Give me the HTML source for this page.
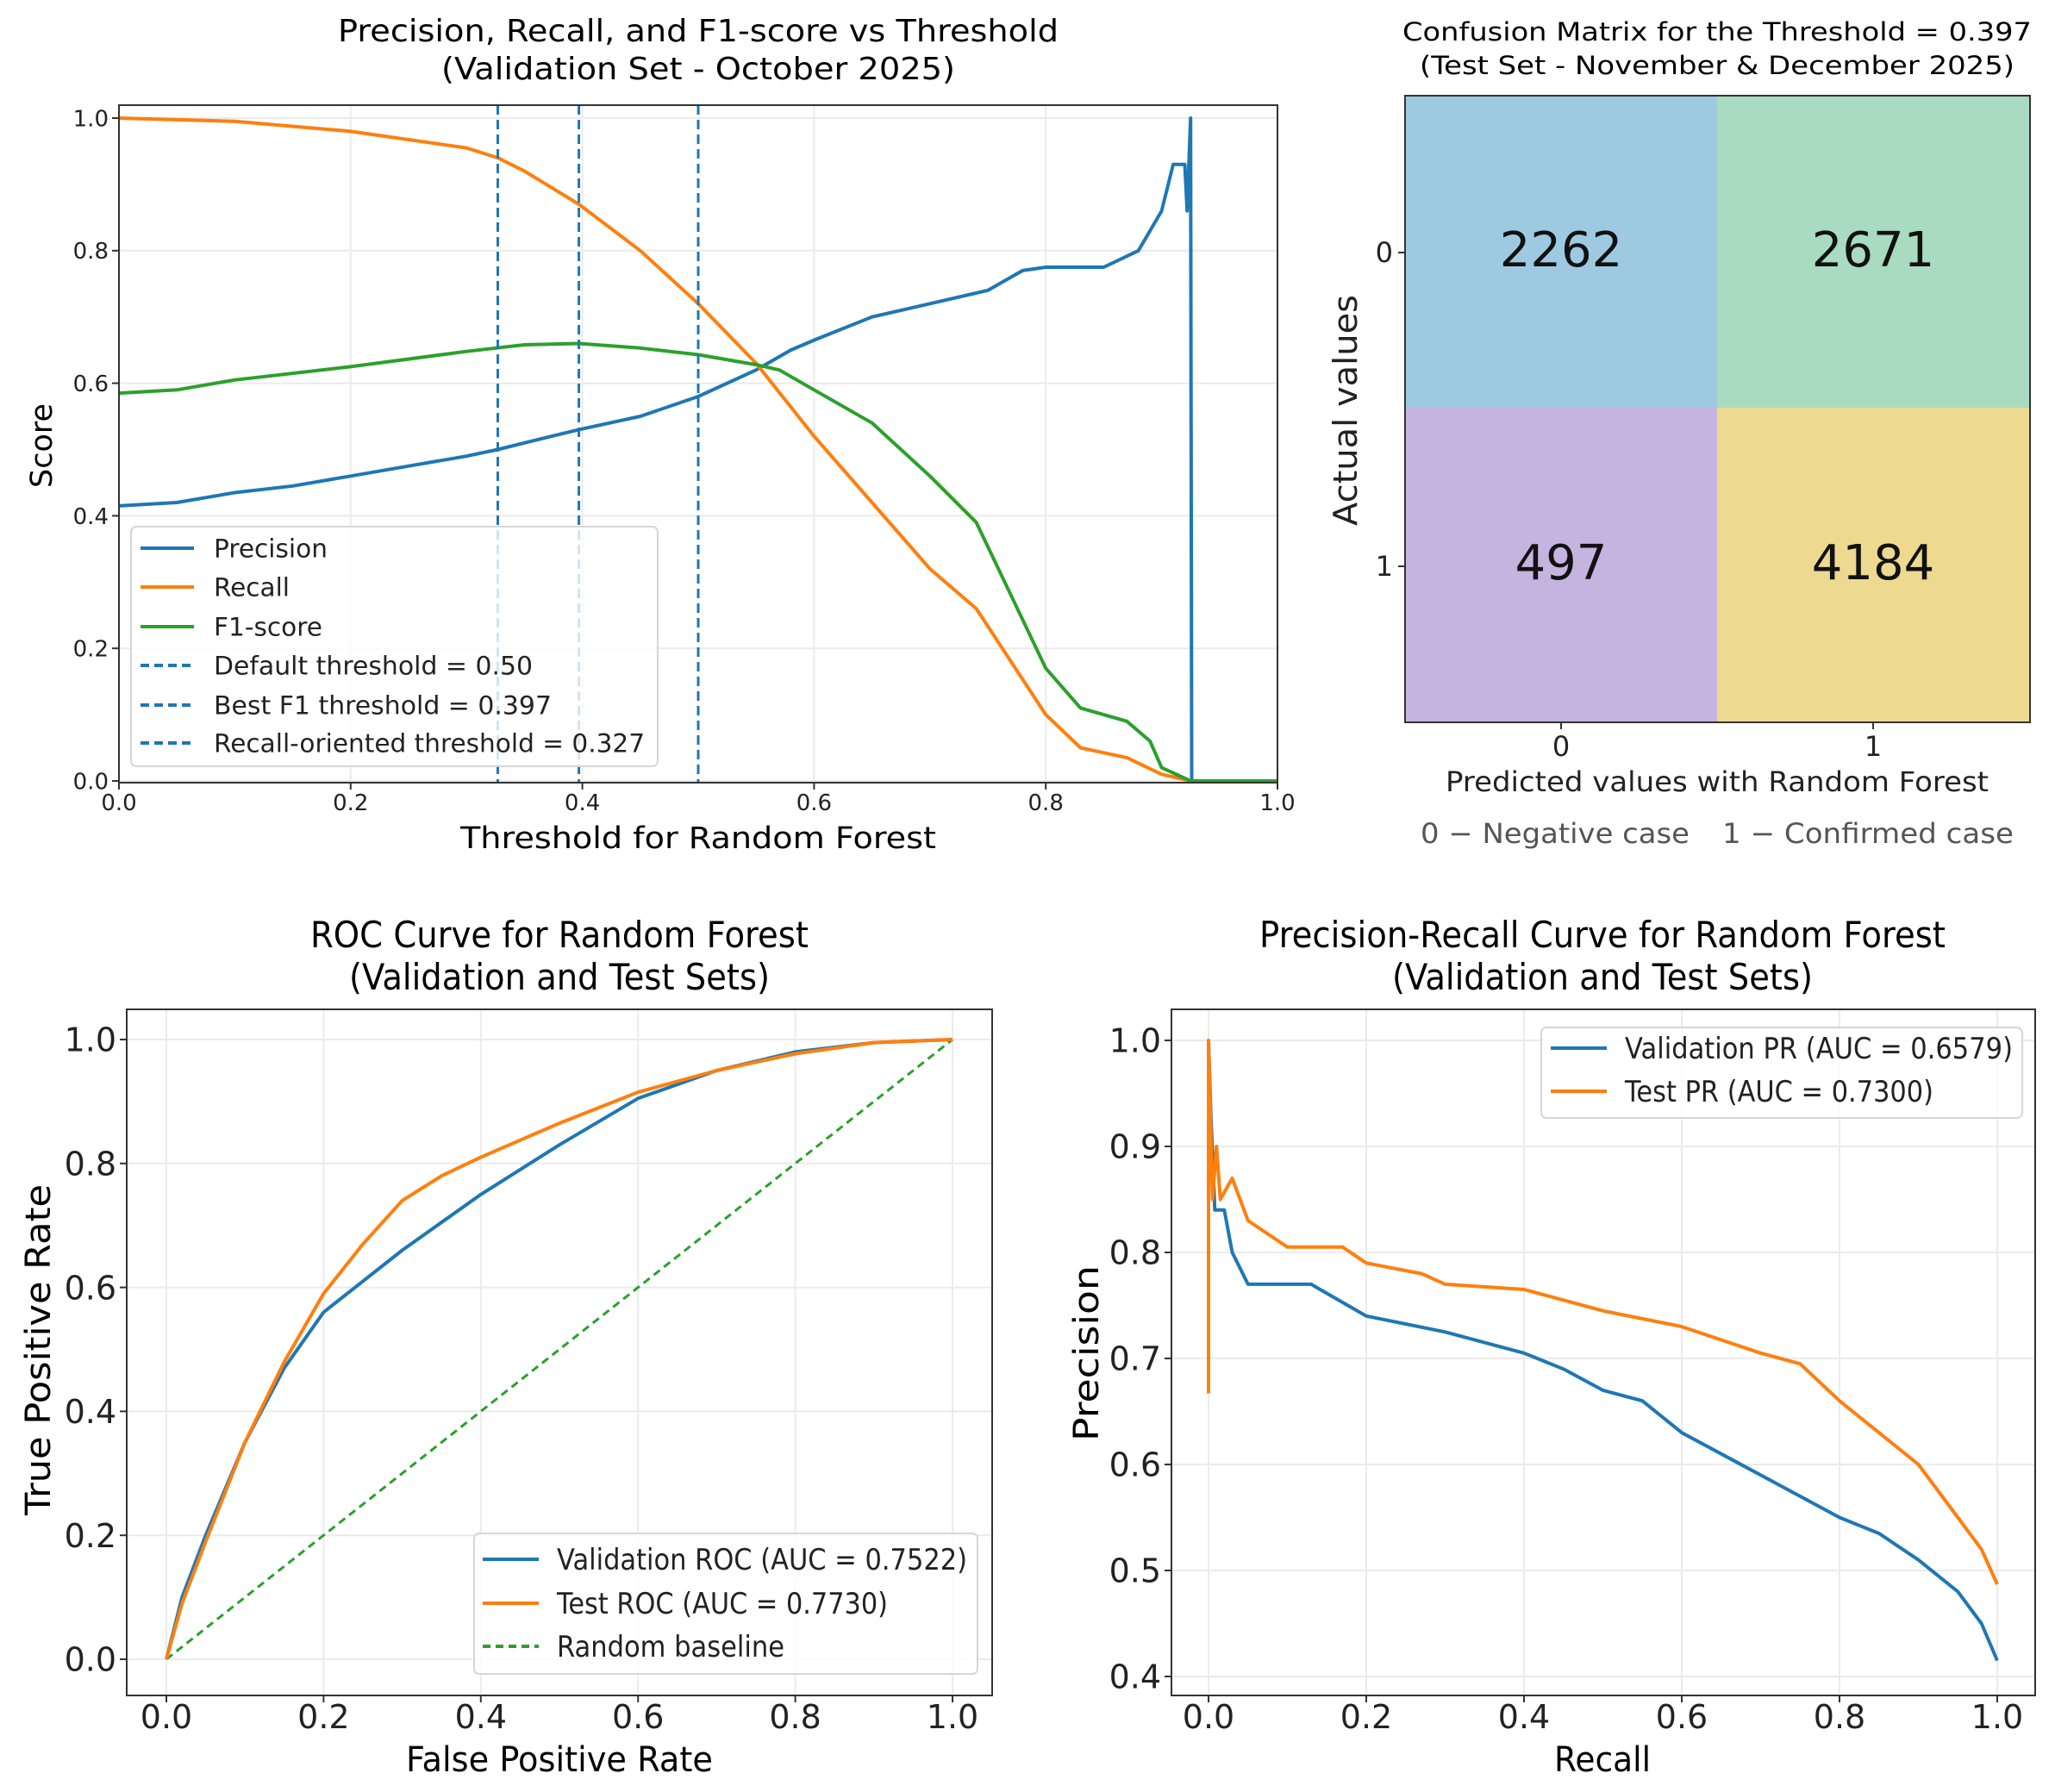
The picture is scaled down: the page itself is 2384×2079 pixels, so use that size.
<!DOCTYPE html>
<html><head><meta charset="utf-8"><style>
html,body{margin:0;padding:0;background:#fff;}
svg{display:block;font-family:"DejaVu Sans","Liberation Sans",sans-serif;}
</style></head><body>
<svg id="fig" width="2384" height="2079" viewBox="0 0 2384 2079" xmlns="http://www.w3.org/2000/svg">
<rect width="2384" height="2079" fill="#fff"/>
<g>
<text x="1992" y="47" font-size="29" text-anchor="middle" textLength="730" lengthAdjust="spacingAndGlyphs">Confusion Matrix for the Threshold = 0.397</text>
<text x="1992" y="86" font-size="29" text-anchor="middle" textLength="690" lengthAdjust="spacingAndGlyphs">(Test Set - November &amp; December 2025)</text>
<rect x="1630" y="111" width="362" height="362" fill="#9ecae1"/>
<rect x="1992" y="111" width="363" height="362" fill="#a8dbbf"/>
<rect x="1630" y="473" width="362" height="365" fill="#c5b3e0"/>
<rect x="1992" y="473" width="363" height="365" fill="#edd990"/>
<rect x="1630" y="111" width="725" height="727" fill="none" stroke="#333" stroke-width="2"/>
<g font-size="56" text-anchor="middle" fill="#111">
<text x="1811" y="309">2262</text>
<text x="2173" y="309">2671</text>
<text x="1811" y="672">497</text>
<text x="2173" y="672">4184</text>
</g>
<g font-size="32" fill="#222">
<line x1="1622" y1="293" x2="1630" y2="293" stroke="#333" stroke-width="2"/>
<line x1="1622" y1="657" x2="1630" y2="657" stroke="#333" stroke-width="2"/>
<line x1="1811" y1="838" x2="1811" y2="846" stroke="#333" stroke-width="2"/>
<line x1="2173" y1="838" x2="2173" y2="846" stroke="#333" stroke-width="2"/>
<text x="1616" y="304" text-anchor="end">0</text>
<text x="1616" y="668" text-anchor="end">1</text>
<text x="1811" y="877" text-anchor="middle">0</text>
<text x="2173" y="877" text-anchor="middle">1</text>
<text x="1992" y="918" text-anchor="middle" textLength="630" lengthAdjust="spacingAndGlyphs">Predicted values with Random Forest</text>
<text x="1648" y="978" fill="#555" textLength="312" lengthAdjust="spacingAndGlyphs">0 − Negative case</text>
<text x="1998" y="978" fill="#555" textLength="338" lengthAdjust="spacingAndGlyphs">1 − Confirmed case</text>
<text transform="translate(1574,476) rotate(-90)" text-anchor="middle" font-size="38" textLength="268" lengthAdjust="spacingAndGlyphs">Actual values</text>
</g>
</g>
</svg>
<script>
const thrX = [0,0.05,0.1,0.15,0.2,0.25,0.3,0.327,0.35,0.397,0.45,0.5,0.55,0.58,0.6,0.65,0.7,0.75,0.78,0.8,0.85,0.88,0.9,0.91,0.92,0.922,0.925,0.926,1.0];
const precisionVals = [0.415,0.42,0.435,0.445,0.46,0.475,0.49,0.50,0.51,0.53,0.55,0.58,0.62,0.65,0.665,0.70,0.72,0.74,0.77,0.775,0.775,0.80,0.86,0.93,0.93,0.86,1.0,0.0,0.0];
const recallX = [0,0.1,0.2,0.3,0.327,0.35,0.397,0.45,0.5,0.55,0.6,0.65,0.7,0.74,0.77,0.8,0.83,0.87,0.9,0.925,1.0];
const recallVals = [1.0,0.995,0.98,0.955,0.94,0.92,0.87,0.80,0.72,0.63,0.52,0.42,0.32,0.26,0.18,0.10,0.05,0.035,0.01,0,0];
const f1X = [0,0.05,0.1,0.2,0.3,0.35,0.397,0.45,0.5,0.55,0.57,0.6,0.65,0.7,0.74,0.77,0.8,0.83,0.87,0.89,0.9,0.925,1.0];
const f1Vals = [0.585,0.59,0.605,0.625,0.648,0.658,0.66,0.653,0.643,0.628,0.62,0.59,0.54,0.46,0.39,0.28,0.17,0.11,0.09,0.06,0.02,0.0,0];
const thresholds = [0.50,0.397,0.327];
const thrTicks = [0,0.2,0.4,0.6,0.8,1.0];
const scoreTicks = [0,0.2,0.4,0.6,0.8,1.0];

const rocValFpr = [0,0.02,0.05,0.1,0.15,0.2,0.25,0.3,0.4,0.5,0.6,0.7,0.8,0.9,1];
const rocValTpr = [0,0.1,0.2,0.35,0.47,0.56,0.61,0.66,0.75,0.83,0.905,0.95,0.98,0.995,1];
const rocTestFpr = [0,0.02,0.05,0.1,0.15,0.2,0.25,0.3,0.35,0.4,0.5,0.6,0.7,0.8,0.9,1];
const rocTestTpr = [0,0.09,0.19,0.35,0.48,0.59,0.67,0.74,0.78,0.81,0.865,0.915,0.95,0.977,0.995,1];
const rocTicks = [0,0.2,0.4,0.6,0.8,1.0];

const prValRecall = [0,0.003,0.008,0.02,0.03,0.05,0.1,0.13,0.2,0.3,0.4,0.45,0.5,0.55,0.6,0.7,0.8,0.85,0.9,0.95,0.98,1.0];
const prValPrec = [1.0,0.93,0.84,0.84,0.80,0.77,0.77,0.77,0.74,0.725,0.705,0.69,0.67,0.66,0.63,0.59,0.55,0.535,0.51,0.48,0.45,0.415];
const prTestRecall = [0,0,0.005,0.01,0.015,0.03,0.05,0.1,0.17,0.2,0.27,0.3,0.4,0.5,0.6,0.7,0.75,0.8,0.85,0.9,0.95,0.98,1.0];
const prTestPrec = [0.667,1.0,0.85,0.9,0.85,0.87,0.83,0.805,0.805,0.79,0.78,0.77,0.765,0.745,0.73,0.705,0.695,0.66,0.63,0.60,0.55,0.52,0.487];
const prXTicks = [0,0.2,0.4,0.6,0.8,1.0];
const prYTicks = [0.4,0.5,0.6,0.7,0.8,0.9,1.0];

const BLUE='#1f77b4', ORANGE='#ff7f0e', GREEN='#2ca02c';
const NS='http://www.w3.org/2000/svg';
const svg=document.getElementById('fig');
function mk(tag,attrs,parent){const e=document.createElementNS(NS,tag);for(const k in attrs)e.setAttribute(k,attrs[k]);(parent||svg).appendChild(e);return e;}
function lin(d0,d1,r0,r1){return v=>r0+(v-d0)/(d1-d0)*(r1-r0);}
function pathD(xs,ys,sx,sy){return xs.map((x,i)=>(i?'L':'M')+sx(x).toFixed(1)+','+sy(ys[i]).toFixed(1)).join('');}

function axes(cfg){
  const g=mk('g',{});
  
  
  const {x0,x1,y0,y1,sx,sy}=cfg;
  cfg.xt.forEach(v=>{const l=mk('line',{x1:sx(v),x2:sx(v),y1:y0,y2:y1,stroke:'#ebebeb','stroke-width':2},g);
    
    });
  cfg.yt.forEach(v=>{const l=mk('line',{x1:x0,x2:x1,y1:sy(v),y2:sy(v),stroke:'#ebebeb','stroke-width':2},g);
    
    });
  cfg.xt.forEach(v=>{mk('line',{x1:sx(v),x2:sx(v),y1:y1,y2:y1+8,stroke:'#333','stroke-width':2},g);
    const t=mk('text',{x:sx(v),y:cfg.xtY,'font-size':cfg.fs,'text-anchor':'middle',fill:'#222'},g);t.textContent=v.toFixed(1);
    
    });
  cfg.yt.forEach(v=>{mk('line',{x1:x0-8,x2:x0,y1:sy(v),y2:sy(v),stroke:'#333','stroke-width':2},g);
    const t=mk('text',{x:x0-12,y:sy(v)+cfg.fs*0.36,'font-size':cfg.fs,'text-anchor':'end',fill:'#222'},g);t.textContent=v.toFixed(1);
    
    });
  return g;
}
function frame(g,x0,x1,y0,y1){const r=mk('rect',{x:x0,y:y0,width:x1-x0,height:y1-y0,fill:'none',stroke:'#333','stroke-width':2},g);
  
  }
function text(g,attrs,str,name){const t=mk('text',attrs,g);t.textContent=str;
  
  return t;}
function series(g,xs,ys,sx,sy,color,name,w,dash){const p=mk('path',{d:pathD(xs,ys,sx,sy),fill:'none',stroke:color,'stroke-width':w||4,'stroke-linejoin':'round'},g);
  if(dash)p.setAttribute('stroke-dasharray',dash);
  
  return p;}
function legendBox(g,x,y,w,h){const r=mk('rect',{x:x,y:y,width:w,height:h,fill:'#fff','fill-opacity':0.8,stroke:'#d6d6d6','stroke-width':2,rx:6},g);
  
  }
function legendEntry(g,lx0,lx1,tx,y,color,label,fs,dash,tl){
  const l=mk('line',{x1:lx0,x2:lx1,y1:y,y2:y,stroke:color,'stroke-width':4},g);
  if(dash)l.setAttribute('stroke-dasharray',dash);
  
  
  const t=text(g,{x:tx,y:y+fs*0.36,'font-size':fs,fill:'#222'},label,'legend-entry');
  if(tl){t.setAttribute('textLength',tl);t.setAttribute('lengthAdjust','spacingAndGlyphs');}
}

(function(){
  const x0=138,x1=1482,y0=122,y1=908;
  const sx=lin(0,1,138,1482), sy=lin(0,1,906,137);
  const g=axes({name:'threshold-chart',x0,x1,y0,y1,sx,sy,xt:thrTicks,yt:scoreTicks,fs:26,xtY:940});
  text(g,{x:810,y:48,'font-size':36,'text-anchor':'middle',textLength:836,lengthAdjust:'spacingAndGlyphs'},'Precision, Recall, and F1-score vs Threshold','threshold-title-line1');
  text(g,{x:810,y:92,'font-size':36,'text-anchor':'middle',textLength:596,lengthAdjust:'spacingAndGlyphs'},'(Validation Set - October 2025)','threshold-title-line2');
  text(g,{x:810,y:984,'font-size':35,'text-anchor':'middle',textLength:552,lengthAdjust:'spacingAndGlyphs'},'Threshold for Random Forest','x-axis-title');
  text(g,{transform:'translate(60,517) rotate(-90)','font-size':35,'text-anchor':'middle'},'Score','y-axis-title');
  series(g,thrX,precisionVals,sx,sy,BLUE,'precision-line');
  series(g,recallX,recallVals,sx,sy,ORANGE,'recall-line');
  series(g,f1X,f1Vals,sx,sy,GREEN,'f1-line');
  thresholds.forEach(t=>{const l=mk('line',{x1:sx(t),x2:sx(t),y1:y0,y2:y1,stroke:BLUE,'stroke-width':3,'stroke-dasharray':'11,6'},g);
    
    });
  frame(g,x0,x1,y0,y1);
  legendBox(g,152,611,611,278);
  const labels=['Precision','Recall','F1-score','Default threshold = 0.50','Best F1 threshold = 0.397','Recall-oriented threshold = 0.327'];
  const cols=[BLUE,ORANGE,GREEN,BLUE,BLUE,BLUE];
  const rows=[636,681,727,772,818,862];
  const tls=[132,88,126,370,392,500];
  labels.forEach((s,i)=>legendEntry(g,163,225,248,rows[i],cols[i],s,29,i>2?'10,6':null,tls[i]));
})();

(function(){
  const x0=147,x1=1151,y0=1171,y1=1967;
  const sx=lin(0,1,193,1105), sy=lin(0,1,1925,1206);
  const g=axes({name:'roc-chart',x0,x1,y0,y1,sx,sy,xt:rocTicks,yt:rocTicks,fs:38,xtY:2005});
  text(g,{x:649,y:1099,'font-size':42,'text-anchor':'middle',textLength:578,lengthAdjust:'spacingAndGlyphs'},'ROC Curve for Random Forest','roc-title-line1');
  text(g,{x:649,y:1148,'font-size':42,'text-anchor':'middle',textLength:488,lengthAdjust:'spacingAndGlyphs'},'(Validation and Test Sets)','roc-title-line2');
  text(g,{x:649,y:2055,'font-size':40,'text-anchor':'middle',textLength:356,lengthAdjust:'spacingAndGlyphs'},'False Positive Rate','x-axis-title');
  text(g,{transform:'translate(58,1566) rotate(-90)','font-size':40,'text-anchor':'middle',textLength:384,lengthAdjust:'spacingAndGlyphs'},'True Positive Rate','y-axis-title');
  series(g,[0,1],[0,1],sx,sy,GREEN,'random-baseline',3,'9,6');
  series(g,rocValFpr,rocValTpr,sx,sy,BLUE,'validation-roc-line');
  series(g,rocTestFpr,rocTestTpr,sx,sy,ORANGE,'test-roc-line');
  frame(g,x0,x1,y0,y1);
  legendBox(g,550,1779,584,163);
  legendEntry(g,560,625,646,1809,BLUE,'Validation ROC (AUC = 0.7522)',34,null,476);
  legendEntry(g,560,625,646,1860,ORANGE,'Test ROC (AUC = 0.7730)',34,null,384);
  legendEntry(g,560,625,646,1910,GREEN,'Random baseline',34,'9,6',264);
})();

(function(){
  const x0=1359,x1=2361,y0=1171,y1=1967;
  const sx=lin(0,1,1402,2317), sy=lin(0.4,1,1945,1207);
  const g=axes({name:'pr-chart',x0,x1,y0,y1,sx,sy,xt:prXTicks,yt:prYTicks,fs:38,xtY:2005});
  text(g,{x:1859,y:1099,'font-size':42,'text-anchor':'middle',textLength:796,lengthAdjust:'spacingAndGlyphs'},'Precision-Recall Curve for Random Forest','pr-title-line1');
  text(g,{x:1859,y:1148,'font-size':42,'text-anchor':'middle',textLength:488,lengthAdjust:'spacingAndGlyphs'},'(Validation and Test Sets)','pr-title-line2');
  text(g,{x:1859,y:2055,'font-size':40,'text-anchor':'middle',textLength:112,lengthAdjust:'spacingAndGlyphs'},'Recall','x-axis-title');
  text(g,{transform:'translate(1274,1570) rotate(-90)','font-size':40,'text-anchor':'middle',textLength:204,lengthAdjust:'spacingAndGlyphs'},'Precision','y-axis-title');
  series(g,prValRecall,prValPrec,sx,sy,BLUE,'validation-pr-line');
  series(g,prTestRecall,prTestPrec,sx,sy,ORANGE,'test-pr-line');
  frame(g,x0,x1,y0,y1);
  legendBox(g,1788,1192,558,105);
  legendEntry(g,1799,1864,1885,1216,BLUE,'Validation PR (AUC = 0.6579)',34,null,450);
  legendEntry(g,1799,1864,1885,1266,ORANGE,'Test PR (AUC = 0.7300)',34,null,358);
})();
</script>
</body></html>
